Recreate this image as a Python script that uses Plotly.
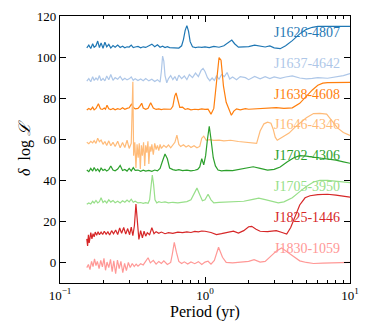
import math
import plotly.graph_objects as go

# period grids (yr) and delta log L values for each pulsar
p_1626 = [0.153, 0.158, 0.163, 0.168, 0.172, 0.177, 0.182, 0.187, 0.192, 0.198, 0.204, 0.21, 0.217, 0.224,
          0.232, 0.24, 0.25, 0.26, 0.27, 0.28, 0.29, 0.3, 0.31, 0.32, 0.33, 0.345, 0.36, 0.375, 0.39, 0.41,
          0.43, 0.45, 0.47, 0.49, 0.51, 0.53, 0.55, 0.57, 0.6, 0.63, 0.66, 0.69, 0.71, 0.73, 0.75, 0.77, 0.79,
          0.82, 0.86, 0.9, 0.95, 1.0, 1.07, 1.15, 1.25, 1.35, 1.45, 1.53, 1.6, 1.7, 1.85, 2.0, 2.2, 2.4, 2.6,
          2.8, 3.0, 3.3, 3.6, 4.0, 4.5, 5.0, 5.5, 6.0, 7.0, 8.0, 9.0, 10.0]
v_1626 = [104.5, 105.8, 104.2, 106.5, 104.8, 105.5, 107.8, 104.6, 106.9, 104.3, 107.2, 105.0, 106.2, 104.4,
          105.6, 104.8, 105.9, 104.7, 105.3, 104.5, 105.0, 104.9, 105.8, 104.6, 104.9, 105.2, 104.5, 105.0,
          104.7, 105.5, 106.3, 105.0, 106.0, 104.8, 105.3, 104.6, 105.1, 104.6, 104.5, 104.6, 104.4, 105.5,
          108.5, 113.0, 115.3, 112.5, 107.5, 105.0, 104.6, 104.9, 104.7, 105.0, 104.6, 105.2, 104.8, 105.5,
          107.3, 108.3, 106.5, 104.8, 105.0, 105.1, 105.8, 105.2, 104.9, 105.4, 104.5, 104.1, 105.5, 108.0,
          111.3, 113.5, 114.5, 114.9, 115.0, 114.9, 114.9, 114.9]

p_1637 = [0.153, 0.158, 0.163, 0.168, 0.172, 0.177, 0.182, 0.187, 0.192, 0.198, 0.204, 0.21, 0.217, 0.224,
          0.232, 0.24, 0.25, 0.26, 0.27, 0.28, 0.29, 0.3, 0.31, 0.32, 0.33, 0.345, 0.36, 0.375, 0.39, 0.41,
          0.43, 0.45, 0.47, 0.49, 0.5, 0.51, 0.52, 0.53, 0.545, 0.56, 0.58, 0.6, 0.62, 0.64, 0.66, 0.69, 0.72,
          0.75, 0.78, 0.82, 0.86, 0.9, 0.94, 0.97, 1.0, 1.04, 1.08, 1.12, 1.16, 1.2, 1.25, 1.3, 1.36, 1.42,
          1.48, 1.55, 1.65, 1.75, 1.9, 2.0, 2.2, 2.4, 2.6, 2.8, 3.0, 3.3, 3.6, 4.0, 4.5, 5.0, 5.5, 6.0, 7.0,
          8.0, 9.0, 10.0]
v_1637 = [88.3, 89.5, 88.0, 90.5, 88.6, 89.8, 88.9, 91.0, 88.5, 89.6, 88.4, 90.8, 89.0, 91.5, 88.7, 90.0,
          89.2, 90.6, 88.8, 89.7, 88.9, 89.4, 90.3, 88.7, 89.5, 88.6, 89.3, 88.5, 89.6, 88.4, 89.2, 88.1,
          89.0, 87.8, 93.0, 100.5, 98.0, 91.0, 87.5, 89.5, 91.0, 89.0, 90.5, 88.5, 91.2, 89.5, 90.8, 89.0,
          91.5, 90.0, 92.2, 90.5, 93.5, 94.5, 93.0, 90.0, 88.5, 89.8, 88.6, 90.8, 89.2, 91.5, 90.5, 92.5,
          89.3, 90.3, 89.0, 90.5, 90.0, 89.0, 90.6, 89.4, 90.5, 89.5, 90.3, 89.6, 90.3, 90.8, 89.8, 89.4,
          89.6, 90.0, 89.7, 90.3, 91.0, 92.0]

p_1638 = [0.153, 0.158, 0.163, 0.168, 0.172, 0.177, 0.184, 0.19, 0.196, 0.202, 0.206, 0.211, 0.217, 0.224,
          0.232, 0.24, 0.25, 0.26, 0.27, 0.28, 0.29, 0.3, 0.312, 0.32, 0.33, 0.345, 0.355, 0.366, 0.375, 0.39,
          0.405, 0.422, 0.44, 0.46, 0.48, 0.5, 0.52, 0.55, 0.58, 0.6, 0.618, 0.632, 0.65, 0.67, 0.7, 0.73,
          0.76, 0.8, 0.85, 0.9, 0.95, 1.0, 1.05, 1.1, 1.15, 1.2, 1.25, 1.29, 1.34, 1.4, 1.47, 1.52, 1.58,
          1.65, 1.75, 1.9, 2.0, 2.2, 2.5, 2.8, 3.1, 3.5, 4.0, 4.5, 5.0, 5.5, 6.0, 6.5, 7.0, 8.0, 9.0, 10.0]
v_1638 = [74.2, 75.0, 74.4, 75.6, 74.3, 75.0, 77.3, 74.8, 74.5, 75.2, 74.6, 76.6, 74.8, 74.4, 75.0, 74.3,
          74.9, 74.5, 75.3, 74.6, 75.0, 75.3, 77.2, 75.5, 74.8, 75.0, 76.0, 77.5, 75.2, 74.6, 75.1, 77.8,
          75.2, 74.5, 74.8, 74.4, 74.7, 74.5, 74.6, 76.0, 81.0, 82.5, 78.5, 75.5, 75.6, 74.5, 74.9, 74.3,
          74.6, 74.4, 74.8, 74.5, 74.6, 72.2, 75.0, 88.0, 99.8, 98.5, 86.0, 78.0, 74.0, 71.7, 73.7, 74.8,
          74.3, 74.9, 74.6, 74.8, 75.2, 75.5, 75.4, 75.0, 75.3, 77.5, 81.0, 84.0, 86.3, 87.3, 87.6, 87.7,
          87.7, 87.7]

p_1646 = [0.153, 0.158, 0.163, 0.168, 0.172, 0.177, 0.182, 0.187, 0.192, 0.198, 0.204, 0.21, 0.217, 0.224,
          0.232, 0.24, 0.25, 0.26, 0.27, 0.28, 0.29, 0.3, 0.31, 0.318, 0.322, 0.328, 0.334, 0.34, 0.346,
          0.352, 0.358, 0.364, 0.37, 0.377, 0.384, 0.39, 0.397, 0.404, 0.41, 0.417, 0.424, 0.43, 0.44, 0.45,
          0.46, 0.47, 0.48, 0.49, 0.5, 0.52, 0.54, 0.56, 0.58, 0.6, 0.62, 0.64, 0.66, 0.68, 0.71, 0.74, 0.77,
          0.8, 0.84, 0.88, 0.92, 0.95, 0.98, 1.02, 1.08, 1.15, 1.25, 1.35, 1.5, 1.7, 1.9, 2.1, 2.27, 2.4,
          2.55, 2.7, 2.85, 2.95, 3.05, 3.15, 3.4, 3.8, 4.2, 4.6, 5.0, 5.6, 6.2, 6.9, 7.5, 8.2, 9.0, 10.0]
v_1646 = [58.5, 57.8, 59.0, 58.2, 59.3, 58.0, 60.5, 58.8, 59.6, 57.5, 58.9, 57.0, 59.2, 56.8, 58.5, 56.5,
          59.0, 55.8, 58.4, 56.0, 59.5, 55.5, 58.0, 88.0, 52.0, 58.5, 46.0, 57.5, 51.0, 58.0, 45.5, 57.0,
          52.0, 58.5, 47.0, 57.0, 53.5, 59.0, 48.0, 56.5, 54.0, 57.5, 52.5, 58.0, 55.0, 57.0, 54.5, 57.5,
          55.5, 57.0, 56.0, 57.2, 55.8, 57.0, 58.5, 62.0, 57.5, 56.5, 57.3, 56.2, 57.0, 56.0, 56.8, 55.8,
          56.5, 60.5, 61.5, 59.5, 59.8, 59.4, 59.6, 59.2, 59.5, 58.9, 58.6, 58.2, 58.0, 64.0, 67.5, 68.3,
          67.8, 65.0, 61.0, 59.5, 60.8, 63.0, 66.0, 68.5, 70.5, 72.5, 72.6, 72.2, 69.0, 65.5, 63.3, 61.8]

p_1702 = [0.153, 0.158, 0.163, 0.168, 0.172, 0.177, 0.182, 0.187, 0.192, 0.198, 0.204, 0.21, 0.217, 0.224,
          0.232, 0.24, 0.25, 0.26, 0.27, 0.28, 0.29, 0.3, 0.31, 0.32, 0.33, 0.345, 0.36, 0.375, 0.39, 0.41,
          0.43, 0.45, 0.47, 0.49, 0.51, 0.53, 0.55, 0.57, 0.6, 0.63, 0.66, 0.7, 0.75, 0.8, 0.85, 0.89, 0.92,
          0.95, 0.98, 1.01, 1.04, 1.07, 1.1, 1.14, 1.18, 1.23, 1.3, 1.4, 1.55, 1.7, 1.9, 2.15, 2.4, 2.7, 3.0,
          3.3, 3.7, 4.1, 4.5, 5.0, 6.0, 7.0, 8.0, 9.0, 10.0]
v_1702 = [45.0, 44.2, 45.8, 44.5, 46.2, 44.6, 45.5, 44.3, 45.9, 44.8, 45.4, 44.5, 45.2, 47.0, 45.0, 44.6,
          45.5, 47.2, 44.8, 45.3, 44.5, 45.8, 44.6, 46.2, 44.8, 45.0, 44.4, 44.9, 44.5, 44.8, 44.4, 45.0,
          44.6, 45.8, 49.5, 52.8, 50.5, 46.0, 45.2, 44.8, 45.2, 44.7, 45.0, 44.6, 44.9, 45.3, 46.5, 50.5,
          47.5, 52.0, 60.0, 66.3, 60.0, 51.0, 47.0, 45.0, 44.6, 44.8, 44.7, 45.2, 46.0, 46.6, 45.8, 45.0,
          45.3, 46.5, 49.0, 51.0, 52.0, 51.8, 51.0, 50.4, 49.8, 49.0, 48.3]

p_1705 = [0.153, 0.158, 0.163, 0.168, 0.172, 0.177, 0.182, 0.187, 0.192, 0.198, 0.204, 0.21, 0.217, 0.224,
          0.232, 0.24, 0.25, 0.26, 0.27, 0.28, 0.29, 0.3, 0.31, 0.32, 0.33, 0.345, 0.36, 0.375, 0.39, 0.405,
          0.415, 0.425, 0.433, 0.442, 0.452, 0.465, 0.48, 0.5, 0.53, 0.56, 0.6, 0.65, 0.7, 0.75, 0.8, 0.84,
          0.88, 0.92, 0.96, 1.0, 1.05, 1.1, 1.15, 1.25, 1.4, 1.6, 1.85, 2.1, 2.35, 2.6, 2.9, 3.2, 3.5, 4.0,
          4.5, 5.0, 5.6, 6.2, 7.0, 8.0, 9.0, 10.0]
v_1705 = [28.3, 29.0, 28.5, 29.8, 28.9, 30.2, 29.0, 29.6, 31.5, 29.2, 30.0, 29.0, 30.5, 29.4, 30.2, 29.1,
          29.8, 29.0, 30.0, 29.3, 30.4, 29.5, 30.8, 29.3, 29.8, 29.0, 29.2, 28.8, 29.1, 28.8, 30.5, 38.0,
          42.6, 38.0, 30.5, 29.0, 29.6, 29.2, 29.5, 29.0, 29.3, 29.0, 29.2, 29.6, 30.5, 33.5, 36.2, 33.0,
          30.0, 30.5, 33.2, 30.5, 29.0, 29.3, 29.5, 29.6, 29.8, 30.6, 31.3, 30.6, 29.6, 29.0, 29.5, 31.5,
          34.5, 37.0, 39.2, 40.0, 40.0, 39.5, 39.2, 38.9]

p_1825 = [0.153, 0.155, 0.157, 0.159, 0.161, 0.163, 0.166, 0.169, 0.172, 0.175, 0.179, 0.183, 0.187, 0.192,
          0.197, 0.202, 0.208, 0.214, 0.22, 0.227, 0.234, 0.242, 0.25, 0.258, 0.266, 0.275, 0.284, 0.293,
          0.302, 0.31, 0.318, 0.326, 0.334, 0.342, 0.35, 0.36, 0.37, 0.38, 0.39, 0.4, 0.415, 0.43, 0.445,
          0.46, 0.48, 0.5, 0.53, 0.56, 0.6, 0.65, 0.7, 0.75, 0.8, 0.85, 0.9, 0.95, 1.0, 1.1, 1.2, 1.3, 1.45,
          1.57, 1.7, 1.85, 2.0, 2.1, 2.25, 2.4, 2.7, 3.1, 3.4, 3.66, 3.9, 4.2, 4.5, 4.9, 5.3, 6.0, 7.0, 8.0,
          9.0, 10.0]
v_1825 = [11.5, 8.0, 13.5, 9.5, 12.0, 14.5, 11.5, 14.0, 12.5, 14.8, 13.2, 15.0, 13.5, 14.8, 13.6, 15.2,
          13.8, 14.9, 13.4, 15.5, 14.0, 15.8, 13.6, 16.8, 14.2, 17.0, 13.8, 16.5, 13.5, 17.2, 13.0, 18.0,
          28.5, 17.0, 11.2, 15.5, 12.0, 15.2, 12.8, 14.5, 13.5, 16.9, 14.0, 15.0, 14.2, 14.8, 14.0, 14.5,
          14.2, 14.8, 14.5, 14.9, 14.6, 15.1, 14.9, 15.3, 15.2, 14.6, 13.6, 14.0, 14.5, 15.2, 14.3, 15.5,
          17.4, 17.6, 16.2, 15.2, 15.0, 15.5, 14.6, 13.8, 17.0, 22.5, 28.0, 31.5, 32.5, 33.0, 33.2, 32.8,
          32.3, 31.8]

p_1830 = [0.153, 0.157, 0.161, 0.165, 0.169, 0.173, 0.177, 0.181, 0.186, 0.191, 0.196, 0.201, 0.206, 0.211,
          0.217, 0.223, 0.229, 0.235, 0.242, 0.249, 0.256, 0.263, 0.271, 0.279, 0.287, 0.296, 0.305, 0.315,
          0.325, 0.335, 0.345, 0.36, 0.375, 0.39, 0.405, 0.42, 0.44, 0.46, 0.48, 0.5, 0.52, 0.55, 0.58,
          0.595, 0.614, 0.635, 0.66, 0.69, 0.72, 0.76, 0.8, 0.85, 0.9, 0.95, 1.0, 1.05, 1.1, 1.16, 1.24,
          1.32, 1.4, 1.55, 1.75, 2.0, 2.18, 2.4, 2.6, 2.9, 3.1, 3.37, 3.7, 4.1, 4.5, 5.0, 5.6, 6.5, 8.0, 10.0]
v_1830 = [-2.5, -1.0, -3.5, 0.5, -2.0, 1.8, -1.5, 0.5, -3.0, 1.0, -2.2, 2.0, -3.8, 0.2, -2.5, 1.5, -4.5,
          0.8, -5.5, 1.2, -3.0, 0.5, -5.0, -0.5, -4.0, 0.0, -2.5, -0.5, -2.0, -0.8, -1.8, -0.6, -1.2, 0.5,
          2.3, -0.2, 1.0, -0.8, 0.5, -0.5, 0.8, -1.0, 0.0, 4.0, 9.8, 5.0, 0.5, -0.5, 0.3, -0.8, 0.2, -0.6,
          0.4, -1.0, 0.2, 0.6, -0.8, 1.0, 7.4, 2.5, 0.0, -0.2, 0.0, 0.5, 1.4, 0.2, 0.5, 3.5, 5.5, 7.1, 5.0,
          2.5, 0.8, 0.0, -0.5, -0.3, 0.0, 0.0]

names = ["J1626-4807", "J1637-4642", "J1638-4608", "J1646-4346",
         "J1702-4306", "J1705-3950", "J1825-1446", "J1830-1059"]
offsets = [105, 90, 75, 60, 45, 30, 15, 0]
colors = ["#1f77b4", "#aec7e8", "#ff7f0e", "#ffbb78",
          "#2ca02c", "#98df8a", "#d62728", "#ff9896"]
periods = [p_1626, p_1637, p_1638, p_1646, p_1702, p_1705, p_1825, p_1830]
values = [v_1626, v_1637, v_1638, v_1646, v_1702, v_1705, v_1825, v_1830]

FONT = "Liberation Serif"

fig = go.Figure()
for name, col, px_, vy in zip(names, colors, periods, values):
    fig.add_trace(go.Scatter(x=px_, y=vy, mode="lines", name=name,
                             line=dict(color=col, width=1.2)))

for name, col, off in zip(names, colors, offsets):
    fig.add_annotation(x=math.log10(8.8), y=off + 7, text=name, showarrow=False,
                       xanchor="right", yanchor="middle",
                       font=dict(family=FONT, size=14, color=col))

minor_x = [m * 10 ** e for e in (-1, 0) for m in range(2, 10)]
fig.update_xaxes(type="log", range=[-1, 1], automargin=False,
                 tickvals=[0.1, 1, 10],
                 ticktext=["10<sup>−1</sup>", "10<sup>0</sup>", "10<sup>1</sup>"],
                 ticks="inside", ticklen=6, tickwidth=1, tickcolor="black",
                 minor=dict(tickvals=minor_x, ticks="inside", ticklen=3, tickcolor="black"),
                 showline=True, linecolor="black", linewidth=1.2, mirror="ticks",
                 showgrid=False, zeroline=False,
                 title=dict(text="Period (yr)", font=dict(family=FONT, size=16, color="black"), standoff=2),
                 tickfont=dict(family=FONT, size=13, color="black"))
fig.update_yaxes(range=[-10, 120], tickvals=[0, 20, 40, 60, 80, 100, 120], automargin=False,
                 ticks="inside", ticklen=6, tickwidth=1, tickcolor="black",
                 showline=True, linecolor="black", linewidth=1.2, mirror="ticks",
                 showgrid=False, zeroline=False,
                 title=dict(text="<i>δ</i>  log <i>ℒ</i>", font=dict(family=FONT, size=16, color="black"),
                            standoff=2),
                 tickfont=dict(family=FONT, size=13, color="black"))
# page body adds an 8 px offset, so the figure is 8 px smaller than the window
fig.update_layout(width=366, height=318, showlegend=False,
                  font=dict(family=FONT, color="black"),
                  plot_bgcolor="white", paper_bgcolor="white",
                  margin=dict(l=52, r=24, t=8, b=43))

fig.write_html("out.html")
